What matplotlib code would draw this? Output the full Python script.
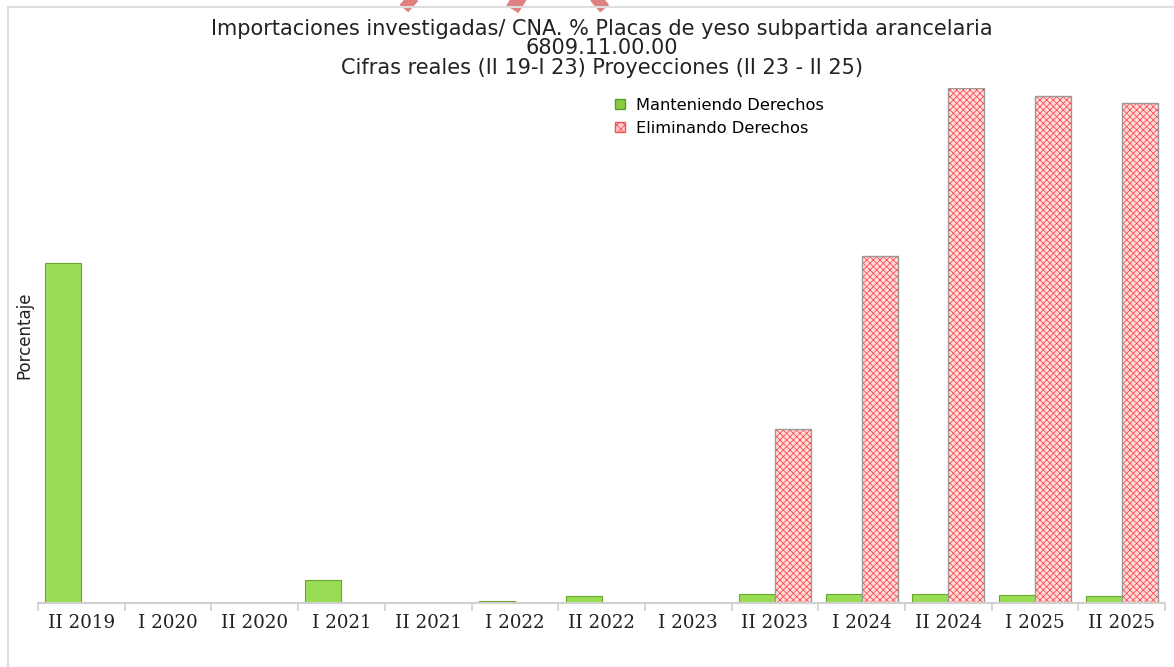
import matplotlib.pyplot as plt
import numpy as np
from matplotlib.lines import Line2D
from matplotlib.patches import Rectangle

periodos = ['II 2019', 'I 2020', 'II 2020', 'I 2021', 'II 2021', 'I 2022', 'II 2022',
            'I 2023', 'II 2023', 'I 2024', 'II 2024', 'I 2025', 'II 2025']
manteniendo = [34.0, 0.0, 0.0, 2.3, 0.0, 0.2, 0.7, 0.0, 0.9, 0.9, 0.9, 0.8, 0.7]
eliminando = [0, 0, 0, 0, 0, 0, 0, 0, 17.4, 34.7, 51.5, 50.7, 50.0]

plt.rcParams['hatch.linewidth'] = 0.6

fig = plt.figure(figsize=(11.74, 6.67), dpi=100)
ax = fig.add_axes([0.0324, 0.096, 0.96, 0.772])

x = np.arange(len(periodos))
w = 0.415
ax.bar(x - w / 2, manteniendo, w, color='#99dd55', edgecolor='#6aa530', linewidth=0.8,
       label='Manteniendo Derechos')
# relleno con trama roja y luego el borde gris
ax.bar(x + w / 2, eliminando, w, color='#ffdede', edgecolor='#ff4a4a', linewidth=0,
       hatch='xxxxx')
ax.bar(x + w / 2, eliminando, w, fill=False, edgecolor='#999999', linewidth=1.0)

ax.set_xlim(-0.5, len(periodos) - 0.5)
ax.set_ylim(0, 51.5)
ax.set_yticks([])
for s in ['top', 'right', 'left']:
    ax.spines[s].set_visible(False)
ax.spines['bottom'].set_color('#d0d0d0')
ax.spines['bottom'].set_linewidth(1.5)

ax.set_xticks(x)
ax.set_xticklabels(periodos, family='DejaVu Serif', fontsize=13.2, color='#222222')
ax.tick_params(axis='x', which='major', length=0, pad=8)
ax.set_xticks(np.arange(-0.5, len(periodos), 1), minor=True)
ax.tick_params(axis='x', which='minor', length=6, color='#d0d0d0', width=1.2)

ax.set_ylabel('Porcentaje', fontsize=12, color='#222222')
ax.yaxis.set_label_coords(-0.004, 0.52)

ax.set_title('Importaciones investigadas/ CNA. % Placas de yeso subpartida arancelaria\n'
             '6809.11.00.00\nCifras reales (II 19-I 23) Proyecciones (II 23 - II 25)',
             fontsize=15, color='#222222', linespacing=0.98, pad=10)

handles = [Rectangle((0, 0), 1, 1, facecolor='#88cc44', edgecolor='#5a9a2a'),
           Rectangle((0, 0), 1, 1, facecolor='#ffc8c8', edgecolor='#ee5555', hatch='xxxx')]
ax.legend(handles, ['Manteniendo Derechos', 'Eliminando Derechos'], loc='upper left',
          bbox_to_anchor=(0.499, 1.01), frameon=False, fontsize=11.7, handlelength=0.6,
          handleheight=0.6, handletextpad=0.7, labelspacing=0.5)

# trazos rojos de la marca de agua en el borde superior
for xs, ys in [([0.333, 0.352], [1.02, 0.99]), ([0.418, 0.445], [1.02, 0.99]),
               ([0.527, 0.507], [1.02, 0.99])]:
    fig.add_artist(Line2D(xs, ys, color='#e08080', lw=11, solid_capstyle='butt', zorder=0))

# marco gris de la figura
fig.add_artist(Line2D([0.007, 0.007], [0, 0.99], color='#dddddd', lw=1.5))
fig.add_artist(Line2D([0.007, 1.0], [0.99, 0.99], color='#dddddd', lw=1.5))

plt.savefig('out.png', dpi=100)
